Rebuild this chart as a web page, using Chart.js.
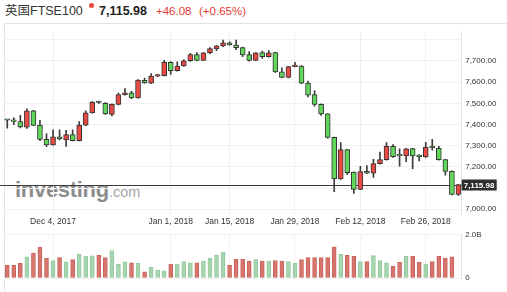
<!DOCTYPE html>
<html>
<head>
<meta charset="utf-8">
<script src="https://cdn.jsdelivr.net/npm/chart.js@4"></script>
<style>
  html,body{margin:0;padding:0;background:#fff;overflow:hidden;width:507px;height:292px;}
  body{position:relative;font-family:"Liberation Sans",Arial,sans-serif;}
  .t{position:absolute;line-height:1;white-space:nowrap;}
  #frame{position:absolute;left:4px;top:23px;width:503px;height:269px;border-left:1px solid #e4e4e4;border-top:1px solid #e4e4e4;box-sizing:border-box;}
  #wm{position:absolute;left:15px;top:179px;white-space:nowrap;line-height:1;}
  canvas{position:absolute;left:0;}
</style>
</head>
<body>
<div class="t" style="left:5px;top:5px;font-size:12.5px;color:#333;font-family:'Liberation Sans','Noto Sans CJK SC',sans-serif;">英国FTSE100</div>
<div style="position:absolute;left:89px;top:3px;width:5px;height:5px;border-radius:50%;background:#e8463d;"></div>
<div class="t" style="left:99px;top:5px;font-size:12.5px;font-weight:bold;color:#222;">7,115.98</div>
<div class="t" style="left:156px;top:5.8px;font-size:11.5px;color:#e53a33;">+46.08</div>
<div class="t" style="left:199px;top:5.8px;font-size:11.5px;color:#e53a33;">(+0.65%)</div>
<div id="frame"></div>
<div id="wm"><span style="font-size:22px;font-weight:bold;color:#8c8c8c;letter-spacing:-0.3px;">investing</span><span style="font-size:14.5px;color:#a6a6a6;">.com</span></div>
<canvas id="pc" width="507" height="207" style="top:23px;"></canvas>
<canvas id="vc" width="507" height="66" style="top:226px;"></canvas>
<script>
const dates = ["Nov 23, 2017","Nov 24, 2017","Nov 27, 2017","Nov 28, 2017","Nov 29, 2017","Nov 30, 2017","Dec 1, 2017","Dec 4, 2017","Dec 5, 2017","Dec 6, 2017","Dec 7, 2017","Dec 8, 2017","Dec 11, 2017","Dec 12, 2017","Dec 13, 2017","Dec 14, 2017","Dec 15, 2017","Dec 18, 2017","Dec 19, 2017","Dec 20, 2017","Dec 21, 2017","Dec 22, 2017","Dec 27, 2017","Dec 28, 2017","Dec 29, 2017","Jan 2, 2018","Jan 3, 2018","Jan 4, 2018","Jan 5, 2018","Jan 8, 2018","Jan 9, 2018","Jan 10, 2018","Jan 11, 2018","Jan 12, 2018","Jan 15, 2018","Jan 16, 2018","Jan 17, 2018","Jan 18, 2018","Jan 19, 2018","Jan 22, 2018","Jan 23, 2018","Jan 24, 2018","Jan 25, 2018","Jan 26, 2018","Jan 29, 2018","Jan 30, 2018","Jan 31, 2018","Feb 1, 2018","Feb 2, 2018","Feb 5, 2018","Feb 6, 2018","Feb 7, 2018","Feb 8, 2018","Feb 9, 2018","Feb 12, 2018","Feb 13, 2018","Feb 14, 2018","Feb 15, 2018","Feb 16, 2018","Feb 19, 2018","Feb 20, 2018","Feb 21, 2018","Feb 22, 2018","Feb 23, 2018","Feb 26, 2018","Feb 27, 2018","Feb 28, 2018","Mar 1, 2018","Mar 2, 2018","Mar 5, 2018"];
const open  = [7421,7418,7414,7387,7465,7397,7330,7304,7342,7327,7352,7324,7397,7455,7505,7500,7447,7495,7541,7550,7526,7608,7595,7628,7631,7694,7654,7676,7701,7730,7703,7739,7757,7771,7785,7775,7763,7730,7703,7740,7720,7740,7649,7622,7673,7676,7595,7541,7495,7450,7339,7143,7281,7175,7094,7179,7170,7215,7234,7297,7253,7252,7286,7249,7247,7291,7288,7234,7179,7070];
const high  = [7422,7432,7443,7474,7467,7420,7357,7375,7375,7372,7375,7414,7465,7508,7510,7503,7497,7548,7570,7557,7612,7619,7640,7637,7703,7697,7696,7706,7736,7739,7740,7763,7773,7799,7790,7799,7765,7744,7740,7747,7749,7742,7668,7675,7694,7678,7605,7560,7497,7452,7341,7315,7283,7177,7203,7206,7236,7270,7315,7305,7285,7287,7288,7258,7316,7330,7297,7236,7181,7118];
const low   = [7383,7399,7384,7381,7394,7324,7295,7302,7327,7297,7322,7322,7395,7453,7500,7448,7441,7493,7539,7522,7524,7594,7593,7626,7629,7636,7652,7674,7698,7700,7701,7733,7748,7768,7774,7753,7720,7699,7701,7712,7718,7646,7620,7620,7672,7593,7530,7486,7443,7336,7083,7141,7163,7074,7092,7168,7150,7213,7232,7245,7203,7224,7191,7228,7245,7279,7232,7161,7068,7065];
const close = [7420,7415,7388,7465,7396,7330,7304,7342,7332,7352,7324,7397,7455,7505,7504,7450,7495,7541,7550,7526,7610,7596,7628,7629,7694,7654,7676,7701,7730,7703,7738,7759,7771,7785,7776,7763,7728,7703,7738,7720,7738,7648,7622,7673,7674,7595,7538,7495,7450,7339,7143,7281,7173,7094,7178,7170,7215,7234,7297,7248,7252,7285,7252,7248,7292,7290,7234,7179,7070,7115.98];
const volumeB = [0.58,0.58,0.68,0.97,1.14,1.41,0.90,0.80,0.93,0.74,0.84,1.09,0.99,1.02,1.04,0.94,1.26,0.62,0.74,0.70,0.67,0.28,0.49,0.36,0.33,0.64,0.64,0.75,0.70,0.70,0.77,0.91,1.06,1.19,0.59,0.86,0.86,0.77,0.84,0.77,0.77,0.80,0.77,0.75,0.67,0.84,0.93,0.93,0.93,0.93,1.43,1.09,1.04,0.99,0.75,0.75,1.03,0.80,0.70,0.55,0.72,0.99,0.99,0.72,0.64,0.75,0.99,0.91,0.97,null];
const tickDates  = ["Dec 4, 2017","Jan 2, 2018","Jan 15, 2018","Jan 29, 2018","Feb 12, 2018","Feb 26, 2018"];
const tickLabels = ["Dec 4, 2017","Jan 1, 2018","Jan 15, 2018","Jan 29, 2018","Feb 12, 2018","Feb 26, 2018"];
const priceTicks = [7000,7100,7200,7300,7400,7500,7600,7700];

const FONT = "'Liberation Sans', Arial, sans-serif";
const UP = '#e84a43', DOWN = '#62d65a';
const isUp = close.map((c,i)=> c >= open[i]);
const tickIdx = tickDates.map(d => dates.indexOf(d));
const keepTicks = s => { s.ticks = s.ticks.filter(t => tickIdx.includes(t.value)); };
const lastPrice = close[close.length-1];

const lastLine = {
  id: 'lastLine',
  beforeDatasetsDraw(chart){
    const {ctx, chartArea} = chart;
    const y = Math.round(chart.scales.y.getPixelForValue(lastPrice)) + 0.5;
    ctx.save();
    ctx.strokeStyle = '#3a3a3a'; ctx.lineWidth = 1;
    ctx.beginPath(); ctx.moveTo(0, y); ctx.lineTo(chartArea.right, y); ctx.stroke();
    ctx.restore();
  },
  afterDraw(chart){
    const {ctx, chartArea} = chart;
    const y = Math.round(chart.scales.y.getPixelForValue(lastPrice));
    ctx.save();
    ctx.fillStyle = '#2e2e2e';
    ctx.fillRect(chartArea.right, y - 5.5, 35, 11);
    ctx.fillStyle = '#fff';
    ctx.font = "bold 8px " + FONT;
    ctx.textBaseline = 'middle';
    ctx.fillText(lastPrice.toLocaleString('en-US',{minimumFractionDigits:2}), chartArea.right + 2, y + 0.5);
    ctx.restore();
  }
};

new Chart(document.getElementById('pc'), {
  type: 'bar',
  data: {
    labels: dates,
    datasets: [
      { label: 'wick', data: dates.map((d,i)=>[low[i], high[i]]), backgroundColor: '#3c3c3c',
        barThickness: 1, grouped: false, order: 1 },
      { label: 'body', data: dates.map((d,i)=>[open[i], close[i]]),
        backgroundColor: isUp.map(u => u ? UP : DOWN), borderColor: '#333', borderWidth: 1,
        borderSkipped: false, barThickness: 5, minBarLength: 1.5, grouped: false, order: 0 }
    ]
  },
  options: {
    responsive: false, animation: false, devicePixelRatio: 1,
    layout: { padding: { left: 4, top: 0, right: 0, bottom: 0 } },
    plugins: { legend: { display: false }, tooltip: { enabled: false } },
    scales: {
      x: {
        type: 'category', offset: true,
        afterBuildTicks: keepTicks,
        afterFit: s => { s.height = 16; },
        grid: { offset: false, color: '#efefef', drawTicks: false },
        border: { display: false },
        ticks: { autoSkip: false, maxRotation: 0, padding: 3, color: '#333',
                 font: { size: 8.5, family: FONT },
                 callback: v => tickLabels[tickIdx.indexOf(v)] }
      },
      y: {
        position: 'right', min: 6977.4, max: 7840,
        afterBuildTicks: s => { s.ticks = priceTicks.concat([7800]).map(v => ({value: v})); },
        afterFit: s => { s.width = 45.3; },
        grid: { color: '#f0f0f0', drawTicks: false },
        border: { display: true, color: '#dde2e8' },
        ticks: { padding: 3.5, color: '#333', font: { size: 8, family: FONT },
                 callback: v => priceTicks.includes(v) ? v.toLocaleString('en-US',{minimumFractionDigits:2}) : '' }
      }
    }
  },
  plugins: [lastLine]
});

new Chart(document.getElementById('vc'), {
  type: 'bar',
  data: {
    labels: dates,
    datasets: [{ data: volumeB,
      backgroundColor: isUp.map(u => u ? '#a7d5af' : '#d6756e'),
      borderColor: isUp.map(u => u ? '#94c99d' : '#c9645d'), borderWidth: 1,
      borderSkipped: false, barThickness: 4 }]
  },
  options: {
    responsive: false, animation: false, devicePixelRatio: 1,
    layout: { padding: { left: 4, top: 6, right: 0, bottom: 14 } },
    plugins: { legend: { display: false }, tooltip: { enabled: false } },
    scales: {
      x: {
        type: 'category', offset: true,
        afterBuildTicks: keepTicks,
        afterFit: s => { s.height = 0; },
        grid: { offset: false, color: '#f3f3f3', drawTicks: false },
        border: { display: false },
        ticks: { display: false }
      },
      y: {
        position: 'right', min: 0, max: 2,
        afterBuildTicks: s => { s.ticks = [{value: 0}, {value: 2}]; },
        afterFit: s => { s.width = 45.3; },
        grid: { color: '#f0f0f0', drawTicks: false },
        border: { display: true, color: '#dde2e8' },
        ticks: { padding: 3.5, color: '#333', font: { size: 8, family: FONT },
                 callback: v => v === 0 ? '0' : v.toFixed(1) + 'B' }
      }
    }
  }
});
</script>
</body>
</html>
